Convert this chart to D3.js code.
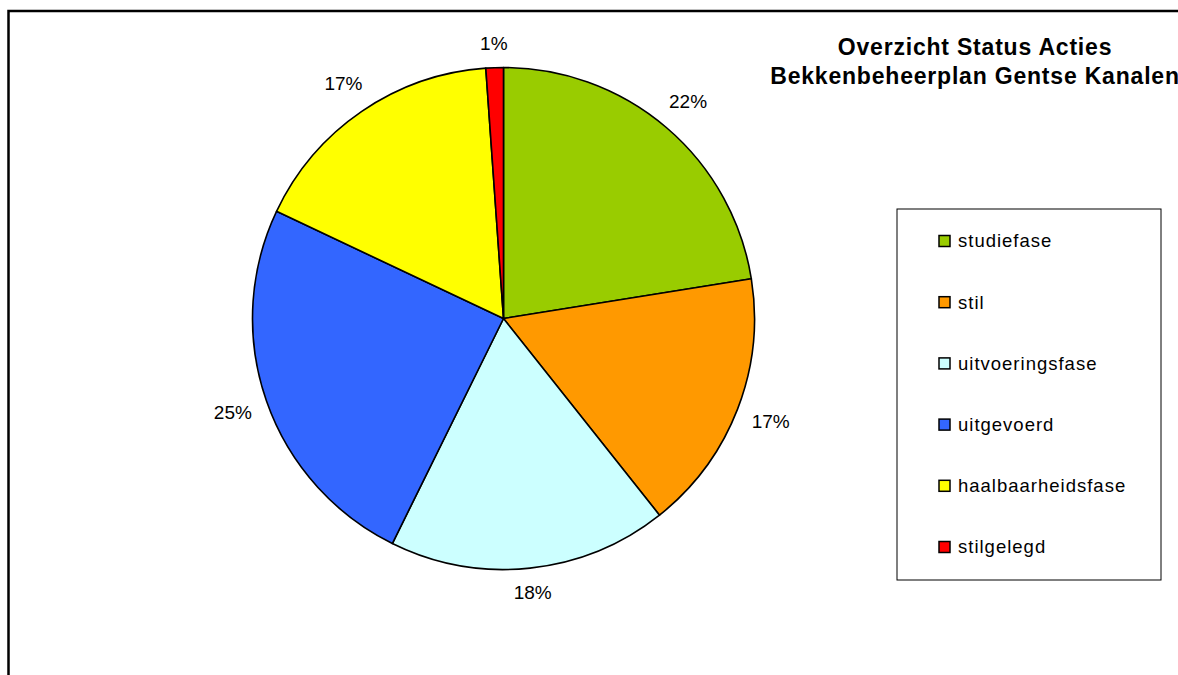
<!DOCTYPE html>
<html>
<head>
<meta charset="utf-8">
<script src="https://cdn.jsdelivr.net/npm/d3@7"></script>
<style>
  html, body { margin: 0; padding: 0; background: #ffffff; }
  #chart { width: 1178px; height: 675px; overflow: hidden; }
  text { font-family: Arial, "Liberation Sans", sans-serif; fill: #000000; }
</style>
</head>
<body>
<div id="chart"></div>
<script>
// Data (number of actions per status)
const categories = ['studiefase', 'stil', 'uitvoeringsfase', 'uitgevoerd', 'haalbaarheidsfase', 'stilgelegd'];
const counts = [20, 15, 16, 22, 15, 1];
const colors = ['#99cc00', '#ff9900', '#ccffff', '#3366ff', '#ffff00', '#ff0000'];
const titleLines = ['Overzicht Status Acties', 'Bekkenbeheerplan Gentse Kanalen'];

const cfg = {
  width: 1178,
  height: 675,
  cx: 503.5,
  cy: 318.5,
  radius: 251,
  labelGap: 15,
  labelSize: 19,
};

const data = categories.map((name, i) => ({ name, value: counts[i], color: colors[i] }));
const total = d3.sum(counts);

const svg = d3.select('#chart').append('svg')
  .attr('width', cfg.width)
  .attr('height', cfg.height);

// Outer chart frame (runs off the bottom/right edge)
svg.append('rect')
  .attr('x', 8.5)
  .attr('y', 11)
  .attr('width', 1300)
  .attr('height', 800)
  .attr('fill', 'none')
  .attr('stroke', '#000000')
  .attr('stroke-width', 2.5);

// Pie
const pie = d3.pie()
  .sort(null)
  .value((d) => d.value)
  .startAngle(0)
  .endAngle(2 * Math.PI);

const arc = d3.arc()
  .innerRadius(0)
  .outerRadius(cfg.radius);

const arcs = pie(data);

const g = svg.append('g')
  .attr('transform', `translate(${cfg.cx},${cfg.cy})`);

g.selectAll('path')
  .data(arcs)
  .enter()
  .append('path')
  .attr('d', arc)
  .attr('fill', (d) => d.data.color)
  .attr('stroke', '#000000')
  .attr('stroke-width', 1.6)
  .attr('stroke-linejoin', 'round');

// Percentage labels, placed just outside the rim
const labels = g.selectAll('text.pct')
  .data(arcs)
  .enter()
  .append('text')
  .attr('class', 'pct')
  .attr('font-size', cfg.labelSize)
  .attr('text-anchor', 'middle')
  .attr('dy', '0.3em')
  .text((d) => `${Math.round((d.data.value / total) * 100)}%`);

labels.each(function (d) {
  const box = this.getBBox();
  const a = (d.startAngle + d.endAngle) / 2;
  const ux = Math.sin(a);
  const uy = -Math.cos(a);
  // push the label box fully outside the rim
  const reach = Math.abs(ux) * (box.width / 2) + Math.abs(uy) * cfg.labelSize * 0.42;
  const r = cfg.radius + cfg.labelGap + reach;
  d3.select(this)
    .attr('x', ux * r)
    .attr('y', uy * r);
});

// Title
svg.append('g')
  .selectAll('text')
  .data(titleLines)
  .enter()
  .append('text')
  .attr('x', 975)
  .attr('y', (d, i) => 55 + i * 29)
  .attr('text-anchor', 'middle')
  .attr('font-size', 23)
  .attr('font-weight', 'bold')
  .attr('letter-spacing', 0.8)
  .text((d) => d);

// Legend
const legend = svg.append('g')
  .attr('transform', 'translate(897,209)');

legend.append('rect')
  .attr('width', 264)
  .attr('height', 371)
  .attr('fill', '#ffffff')
  .attr('stroke', '#000000')
  .attr('stroke-width', 1);

const y = d3.scalePoint()
  .domain(categories)
  .range([32, 338]);

const items = legend.selectAll('g.item')
  .data(data)
  .enter()
  .append('g')
  .attr('class', 'item')
  .attr('transform', (d) => `translate(0,${y(d.name)})`);

items.append('rect')
  .attr('x', 42)
  .attr('y', -5.5)
  .attr('width', 11)
  .attr('height', 11)
  .attr('fill', (d) => d.color)
  .attr('stroke', '#000000')
  .attr('stroke-width', 1.5);

items.append('text')
  .attr('x', 61)
  .attr('dy', '0.35em')
  .attr('font-size', 18.5)
  .attr('letter-spacing', 1.0)
  .text((d) => d.name);
</script>
</body>
</html>
